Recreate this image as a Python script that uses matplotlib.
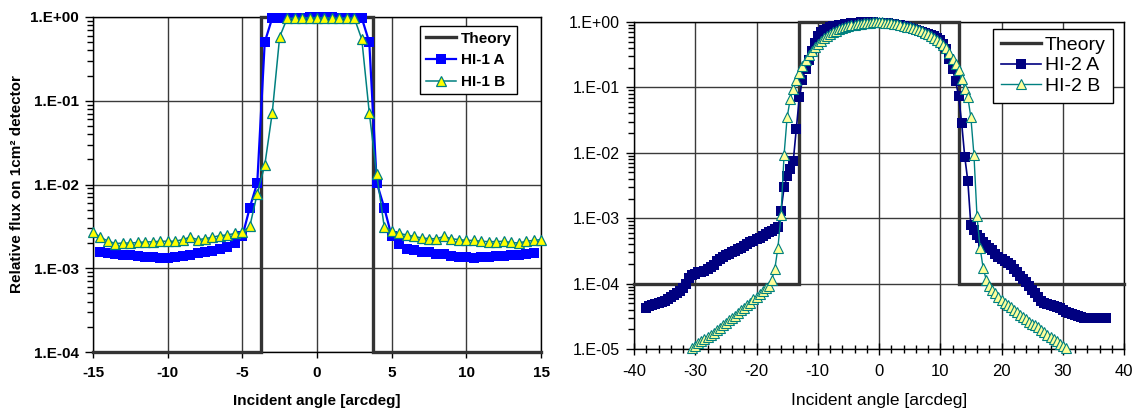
import numpy as np
import matplotlib
matplotlib.use('Agg')
import matplotlib.pyplot as plt
from matplotlib.ticker import LogLocator, FuncFormatter, NullFormatter, MultipleLocator

# ---- left panel (HI-1), angles every 0.5 deg ----
hi1_theory_x = [-15, -3.75, -3.75, 3.75, 3.75, 15]
hi1_theory_y = [1e-4, 1e-4, 1.0, 1.0, 1e-4, 1e-4]

hi1a_start = -14.5
hi1a = [1.57e-3, 1.52e-3, 1.48e-3, 1.45e-3, 1.43e-3, 1.40e-3, 1.38e-3, 1.36e-3, 1.34e-3, 1.33e-3,
        1.36e-3, 1.39e-3, 1.43e-3, 1.52e-3, 1.56e-3, 1.60e-3, 1.68e-3, 1.80e-3, 2.0e-3, 2.4e-3,
        5.3e-3, 1.05e-2, 0.50, 0.97, 0.98, 0.98, 0.98, 0.98, 0.99, 0.99,
        1.0, 0.99, 0.98, 0.98, 0.98, 0.97, 0.50, 1.05e-2, 5.3e-3, 2.4e-3,
        1.93e-3, 1.72e-3, 1.64e-3, 1.58e-3, 1.55e-3, 1.50e-3, 1.46e-3, 1.40e-3, 1.37e-3, 1.35e-3,
        1.34e-3, 1.36e-3, 1.37e-3, 1.39e-3, 1.41e-3, 1.42e-3, 1.45e-3, 1.48e-3, 1.52e-3]

hi1b_start = -15.0
hi1b = [2.71e-3, 2.33e-3, 2.12e-3, 1.97e-3, 2.0e-3, 2.0e-3, 2.03e-3, 2.06e-3, 2.07e-3, 2.1e-3,
        2.1e-3, 2.1e-3, 2.2e-3, 2.35e-3, 2.2e-3, 2.25e-3, 2.35e-3, 2.45e-3, 2.5e-3, 2.6e-3,
        2.7e-3, 3.17e-3, 7.8e-3, 1.69e-2, 7.1e-2, 0.58, 0.96, 0.97, 0.97, 0.98,
        0.98, 0.98, 0.97, 0.97, 0.97, 0.97, 0.54, 7.2e-2, 1.32e-2, 3.14e-3,
        2.79e-3, 2.6e-3, 2.5e-3, 2.4e-3, 2.3e-3, 2.26e-3, 2.25e-3, 2.4e-3, 2.25e-3, 2.2e-3,
        2.15e-3, 2.15e-3, 2.1e-3, 2.08e-3, 2.08e-3, 2.1e-3, 2.03e-3, 2.0e-3, 2.1e-3, 2.15e-3,
        2.2e-3]

# ---- right panel (HI-2), angles every 0.5 deg ----
hi2_theory_x = [-40, -13, -13, 13, 13, 40]
hi2_theory_y = [1e-4, 1e-4, 1.0, 1.0, 1e-4, 1e-4]

hi2a_start = -38.0
hi2a = [4.3e-5, 4.5e-5, 4.7e-5, 4.9e-5, 5.0e-5, 5.2e-5, 5.5e-5, 5.8e-5, 6.2e-5, 6.6e-5,
        7.1e-5, 7.8e-5, 8.5e-5, 1.0e-4, 1.23e-4, 1.35e-4, 1.41e-4, 1.48e-4, 1.51e-4, 1.58e-4,
        1.66e-4, 1.78e-4, 1.95e-4, 2.19e-4, 2.4e-4, 2.57e-4, 2.75e-4, 2.88e-4, 3.02e-4, 3.16e-4,
        3.39e-4, 3.55e-4, 3.8e-4, 3.98e-4, 4.27e-4, 4.47e-4, 4.79e-4, 5.01e-4, 5.37e-4, 5.75e-4,
        6.17e-4, 6.46e-4, 6.76e-4, 7.24e-4, 1.29e-3, 2.95e-3, 4.47e-3, 5.62e-3, 7.41e-3, 2.34e-2,
        7.08e-2, 0.132, 0.191, 0.263, 0.355, 0.479, 0.603, 0.692, 0.759, 0.794,
        0.832, 0.859, 0.875, 0.891, 0.906, 0.920, 0.933, 0.951, 0.966, 0.977,
        0.989, 1.0, 1.0, 0.995, 0.989, 0.982, 0.977, 0.970, 0.962, 0.953,
        0.940, 0.925, 0.908, 0.891, 0.867, 0.839, 0.813, 0.785, 0.759, 0.724,
        0.700, 0.676, 0.653, 0.631, 0.603, 0.575, 0.525, 0.457, 0.389, 0.275,
        0.191, 0.126, 0.0741, 0.0282, 8.7e-3, 3.72e-3, 7.76e-4, 6.61e-4, 5.62e-4, 4.9e-4,
        4.27e-4, 3.89e-4, 3.55e-4, 3.24e-4, 2.82e-4, 2.51e-4, 2.4e-4, 2.24e-4, 2.09e-4, 1.91e-4,
        1.7e-4, 1.51e-4, 1.32e-4, 1.17e-4, 1.05e-4, 9.3e-5, 8.1e-5, 7.2e-5, 6.2e-5, 5.5e-5,
        5.1e-5, 4.9e-5, 4.7e-5, 4.5e-5, 4.4e-5, 4.2e-5, 4.0e-5, 3.7e-5, 3.5e-5, 3.4e-5,
        3.3e-5, 3.2e-5, 3.1e-5, 3.0e-5, 2.95e-5, 2.95e-5, 2.95e-5, 2.95e-5, 2.95e-5, 2.95e-5, 2.95e-5]

hi2b_start = -30.5
hi2b = [1.02e-5, 1.12e-5, 1.23e-5, 1.32e-5, 1.41e-5, 1.55e-5, 1.66e-5, 1.78e-5, 1.95e-5, 2.09e-5,
        2.29e-5, 2.51e-5, 2.75e-5, 3.02e-5, 3.24e-5, 3.55e-5, 3.89e-5, 4.27e-5, 4.68e-5, 5.13e-5,
        5.75e-5, 6.31e-5, 6.92e-5, 7.76e-5, 8.51e-5, 9.33e-5, 1.15e-4, 1.70e-4, 3.55e-4, 1.12e-3,
        9.33e-3, 3.47e-2, 6.61e-2, 9.55e-2, 0.129, 0.166, 0.209, 0.263, 0.316, 0.363,
        0.417, 0.468, 0.513, 0.562, 0.617, 0.661, 0.700, 0.741, 0.776, 0.813,
        0.841, 0.867, 0.891, 0.912, 0.931, 0.946, 0.959, 0.973, 0.982, 0.989,
        0.993, 0.993, 0.989, 0.980, 0.966, 0.951, 0.933, 0.916, 0.898, 0.875,
        0.851, 0.826, 0.800, 0.776, 0.746, 0.716, 0.684, 0.646, 0.610, 0.575,
        0.537, 0.495, 0.452, 0.398, 0.339, 0.275, 0.229, 0.182, 0.135, 9.55e-2,
        7.08e-2, 3.47e-2, 9.33e-3, 1.07e-3, 3.55e-4, 1.74e-4, 1.15e-4, 9.12e-5, 7.94e-5, 7.24e-5,
        6.31e-5, 5.62e-5, 5.13e-5, 4.79e-5, 4.37e-5, 3.98e-5, 3.63e-5, 3.31e-5, 3.09e-5, 2.88e-5,
        2.63e-5, 2.40e-5, 2.34e-5, 2.14e-5, 1.95e-5, 1.82e-5, 1.66e-5, 1.55e-5, 1.41e-5, 1.32e-5,
        1.20e-5, 1.12e-5, 1.02e-5]

theory_color = '#333333'
grid_color = '#3a3a3a'


def angles(start, vals):
    return start + 0.5 * np.arange(len(vals))


def sci_label(v, pos):
    return '1.E%+03d' % int(round(np.log10(v)))


def style_log_axis(ax, lo, hi, size, weight):
    ax.set_yscale('log')
    ax.set_ylim(lo, hi)
    ax.yaxis.set_major_locator(LogLocator(base=10, numticks=20))
    ax.yaxis.set_minor_locator(LogLocator(base=10, subs=np.arange(2, 10), numticks=20))
    ax.yaxis.set_major_formatter(FuncFormatter(sci_label))
    ax.yaxis.set_minor_formatter(NullFormatter())
    ax.tick_params(axis='y', which='major', length=6, width=1, pad=4,
                   labelsize=size)
    ax.tick_params(axis='y', which='minor', length=4, width=1)
    for lab in ax.get_yticklabels():
        lab.set_fontweight(weight)
    ax.grid(True, which='major', color=grid_color, linewidth=1)
    for s in ax.spines.values():
        s.set_color('black')
        s.set_linewidth(1)
    ax.set_axisbelow(True)


def left(fig):
    ax = fig.add_axes([93 / 1135, 1 - 352 / 412, 448 / 1135, 335 / 412])
    ax.plot(hi1_theory_x, hi1_theory_y, color=theory_color, linewidth=2.4,
            clip_on=False, solid_joinstyle='miter', label='Theory', zorder=3)
    ax.plot(angles(hi1a_start, hi1a), hi1a, color='#0000FF', linewidth=1.6,
            marker='s', markersize=6.5, markeredgewidth=0, clip_on=False,
            label='HI-1 A', zorder=4)
    ax.plot(angles(hi1b_start, hi1b), hi1b, color='#008080', linewidth=1.1,
            marker='^', markersize=7.5, markerfacecolor='#FFFF00',
            markeredgecolor='#008080', markeredgewidth=0.9, clip_on=False,
            label='HI-1 B', zorder=5)

    ax.set_xlim(-15, 15)
    ax.xaxis.set_major_locator(MultipleLocator(5))
    ax.tick_params(axis='x', which='major', length=4, width=1, pad=6,
                   labelsize=11)
    for lab in ax.get_xticklabels():
        lab.set_fontweight('bold')
    style_log_axis(ax, 1e-4, 1.0, 11, 'bold')

    ax.set_xlabel('Incident angle [arcdeg]', fontsize=11, fontweight='bold')
    ax.xaxis.set_label_coords(0.5, -0.125)
    ax.set_ylabel('Relative flux on 1cm² detector', fontsize=11, fontweight='bold')
    ax.yaxis.set_label_coords(-0.155, 0.5)

    leg = ax.legend(loc='upper right', bbox_to_anchor=(0.947, 0.972),
                    borderaxespad=0,
                    prop={'size': 11, 'weight': 'bold'}, fancybox=False,
                    framealpha=1, edgecolor='black', handlelength=2.0,
                    labelspacing=0.5, borderpad=0.35, handletextpad=0.3)
    leg.get_frame().set_linewidth(1)


def right(fig):
    ax = fig.add_axes([634 / 1135, 1 - 349 / 412, 490 / 1135, 327 / 412])
    ax.plot(hi2_theory_x, hi2_theory_y, color=theory_color, linewidth=2.4,
            clip_on=False, solid_joinstyle='miter', label='Theory', zorder=3)
    ax.plot(angles(hi2a_start, hi2a), hi2a, color='#000080', linewidth=1.2,
            marker='s', markersize=7.5, markeredgewidth=0, clip_on=False,
            label='HI-2 A', zorder=4)
    ax.plot(angles(hi2b_start, hi2b), hi2b, color='#008080', linewidth=1.0,
            marker='^', markersize=7.5, markerfacecolor='#FFFF99',
            markeredgecolor='#008080', markeredgewidth=0.8, clip_on=False,
            label='HI-2 B', zorder=5)

    ax.set_xlim(-40, 40)
    ax.xaxis.set_major_locator(MultipleLocator(10))
    ax.xaxis.set_minor_locator(MultipleLocator(2))
    ax.tick_params(axis='x', which='major', direction='inout', length=8,
                   width=1, pad=7, labelsize=12)
    ax.tick_params(axis='x', which='minor', direction='inout', length=6, width=1)
    style_log_axis(ax, 1e-5, 1.0, 11.5, 'normal')

    ax.set_xlabel('Incident angle [arcdeg]', fontsize=12.5)
    ax.xaxis.set_label_coords(0.5, -0.135)

    leg = ax.legend(loc='upper right', bbox_to_anchor=(0.978, 0.98),
                    borderaxespad=0,
                    prop={'size': 14}, fancybox=False, framealpha=1,
                    edgecolor='black', handlelength=2.05, labelspacing=0.15,
                    borderpad=0.4, handletextpad=0.2)
    leg.get_frame().set_linewidth(1)


def main():
    plt.rcParams['font.family'] = ['Liberation Sans', 'DejaVu Sans']
    plt.rcParams['axes.unicode_minus'] = False
    fig = plt.figure(figsize=(11.35, 4.12), dpi=100)
    fig.patch.set_facecolor('white')
    left(fig)
    right(fig)
    fig.savefig('out.png', dpi=100)


if __name__ == "__main__":
    main()
